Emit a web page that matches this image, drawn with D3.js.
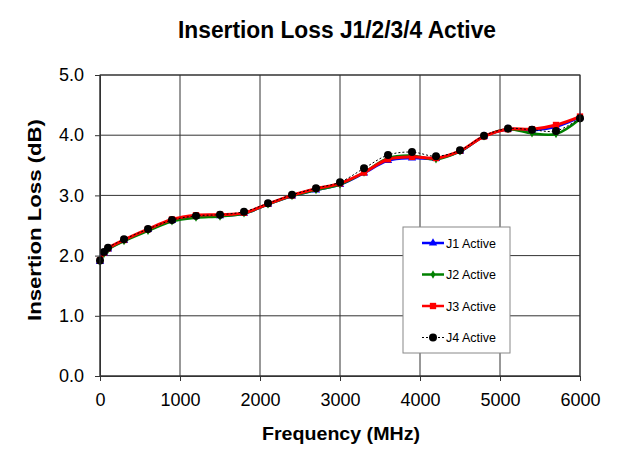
<!DOCTYPE html>
<html>
<head>
<meta charset="UTF-8" />
<script src="https://cdn.jsdelivr.net/npm/d3@7"></script>
<style>
  body { margin: 0; background: #fff; }
  text { font-family: "Liberation Sans", Arial, sans-serif; fill: #000; }
</style>
</head>
<body>
<svg id="chart"></svg>
<script>
// frequencies (MHz) and insertion loss (dB) for each port
const freqs = [0, 50, 100, 300, 600, 900, 1200, 1500, 1800, 2100, 2400, 2700, 3000,
               3300, 3600, 3900, 4200, 4500, 4800, 5100, 5400, 5700, 6000];
const j1 = [1.90, 2.04, 2.11, 2.25, 2.43, 2.58, 2.65, 2.66, 2.70, 2.85, 2.99, 3.09, 3.18,
            3.37, 3.58, 3.62, 3.61, 3.73, 3.98, 4.10, 4.08, 4.14, 4.30];
const j2 = [1.90, 2.03, 2.10, 2.24, 2.41, 2.57, 2.63, 2.65, 2.70, 2.85, 2.99, 3.09, 3.18,
            3.38, 3.62, 3.66, 3.60, 3.73, 3.98, 4.10, 4.03, 4.02, 4.27];
const j3 = [1.92, 2.05, 2.12, 2.26, 2.44, 2.60, 2.67, 2.68, 2.71, 2.86, 3.00, 3.11, 3.20,
            3.38, 3.60, 3.64, 3.62, 3.74, 3.98, 4.10, 4.10, 4.17, 4.31];
const j4 = [1.92, 2.06, 2.13, 2.27, 2.44, 2.59, 2.66, 2.68, 2.73, 2.87, 3.01, 3.12, 3.22,
            3.45, 3.67, 3.72, 3.65, 3.75, 3.99, 4.11, 4.09, 4.07, 4.28];
const seriesNames = ["J1 Active", "J2 Active", "J3 Active", "J4 Active"];
const xTicks = [0, 1000, 2000, 3000, 4000, 5000, 6000];
const yTicks = [0, 1, 2, 3, 4, 5];

const width = 620, height = 451;
const margin = { left: 100, right: 40, top: 75, bottom: 75 };

const svg = d3.select("#chart").attr("width", width).attr("height", height);

const x = d3.scaleLinear().domain([0, 6000]).range([margin.left, width - margin.right]);
const y = d3.scaleLinear().domain([0, 5]).range([height - margin.bottom, margin.top]);

// gridlines
svg.append("g").selectAll("line").data(xTicks).enter().append("line")
  .attr("x1", d => x(d)).attr("x2", d => x(d))
  .attr("y1", y(0)).attr("y2", y(5))
  .attr("stroke", "#333").attr("stroke-width", 1);
svg.append("g").selectAll("line").data(yTicks).enter().append("line")
  .attr("x1", x(0)).attr("x2", x(6000))
  .attr("y1", d => y(d)).attr("y2", d => y(d))
  .attr("stroke", "#333").attr("stroke-width", 1);

// axes
const xAxis = svg.append("g")
  .attr("transform", "translate(0," + y(0) + ")")
  .call(d3.axisBottom(x).tickValues(xTicks).tickSize(5).tickSizeOuter(0).tickPadding(12).tickFormat(d3.format("d")));
const yAxis = svg.append("g")
  .attr("transform", "translate(" + x(0) + ",0)")
  .call(d3.axisLeft(y).tickValues(yTicks).tickSize(5).tickSizeOuter(0).tickPadding(11).tickFormat(d3.format(".1f")));
[xAxis, yAxis].forEach(g => {
  g.select(".domain").attr("stroke", "#333");
  g.selectAll(".tick line").attr("stroke", "#333");
  g.selectAll("text").style("font-size", "18px").style("font-family", "Liberation Sans, Arial, sans-serif");
});

// series
const series = [
  { name: seriesNames[0], vals: j1, color: "#0000ff", width: 2.5, dash: null, marker: "triangle" },
  { name: seriesNames[1], vals: j2, color: "#008000", width: 2.5, dash: null, marker: "diamond" },
  { name: seriesNames[2], vals: j3, color: "#ff0000", width: 3, dash: null, marker: "square" },
  { name: seriesNames[3], vals: j4, color: "#000000", width: 1, dash: "2,2", marker: "circle" }
];
const symbols = {
  triangle: d3.symbol().type(d3.symbolTriangle).size(30),
  diamond: d3.symbol().type(d3.symbolDiamond).size(20),
  square: d3.symbol().type(d3.symbolSquare).size(40),
  circle: d3.symbol().type(d3.symbolCircle).size(50)
};

const line = d3.line().curve(d3.curveCatmullRom.alpha(0.5))
  .x((d, i) => x(freqs[i])).y(d => y(d));

series.forEach(s => {
  const g = svg.append("g");
  g.append("path").attr("d", line(s.vals))
    .attr("fill", "none").attr("stroke", s.color)
    .attr("stroke-width", s.width)
    .attr("stroke-dasharray", s.dash);
  g.selectAll("path.m").data(s.vals).enter().append("path")
    .attr("class", "m")
    .attr("transform", (d, i) => "translate(" + x(freqs[i]) + "," + y(d) + ")")
    .attr("d", symbols[s.marker]())
    .attr("fill", s.color);
});

// plot border
svg.append("rect")
  .attr("x", x(0)).attr("y", y(5))
  .attr("width", x(6000) - x(0)).attr("height", y(0) - y(5))
  .attr("fill", "none").attr("stroke", "#333");

// legend
const lg = svg.append("g").attr("transform", "translate(403,227)");
lg.append("rect").attr("width", 107).attr("height", 126)
  .attr("fill", "#fff").attr("stroke", "#888");
series.forEach((s, i) => {
  const yy = 16 + i * 31.5;
  lg.append("line").attr("x1", 19).attr("x2", 41).attr("y1", yy).attr("y2", yy)
    .attr("stroke", s.color).attr("stroke-width", s.width === 1 ? 1 : 2.5)
    .attr("stroke-dasharray", s.dash);
  lg.append("path").attr("transform", "translate(30," + yy + ")")
    .attr("d", symbols[s.marker]()).attr("fill", s.color);
  lg.append("text").attr("x", 43).attr("y", yy + 4.5)
    .style("font-size", "12.5px").text(s.name);
});

// titles
svg.append("text").attr("x", 337).attr("y", 38).attr("text-anchor", "middle")
  .attr("textLength", 318).attr("lengthAdjust", "spacingAndGlyphs")
  .style("font-size", "23px").style("font-weight", "bold")
  .text("Insertion Loss J1/2/3/4 Active");
svg.append("text").attr("x", 341).attr("y", 440).attr("text-anchor", "middle")
  .attr("textLength", 158).attr("lengthAdjust", "spacingAndGlyphs")
  .style("font-size", "19px").style("font-weight", "bold")
  .text("Frequency (MHz)");
svg.append("text").attr("transform", "translate(41,220) rotate(-90)").attr("text-anchor", "middle")
  .attr("textLength", 202).attr("lengthAdjust", "spacingAndGlyphs")
  .style("font-size", "19px").style("font-weight", "bold")
  .text("Insertion Loss (dB)");
</script>
</body>
</html>
